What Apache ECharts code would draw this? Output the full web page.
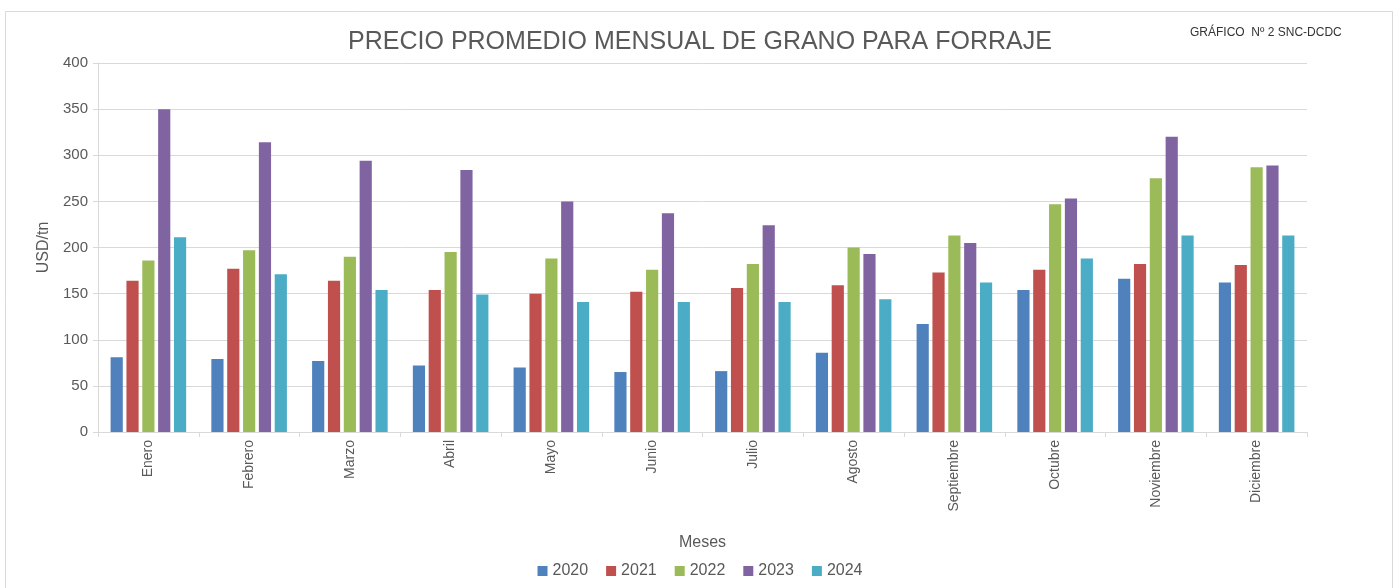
<!DOCTYPE html>
<html>
<head>
<meta charset="utf-8">
<script src="https://cdn.jsdelivr.net/npm/echarts@6/dist/echarts.min.js"></script>
<style>
    html, body { margin: 0; padding: 0; background: #fff; }
    #chart { width: 1400px; height: 588px; }
</style>
</head>
<body>
<div id="chart"></div>
<script>
// meses y series (USD/tn)
var months = ["Enero", "Febrero", "Marzo", "Abril", "Mayo", "Junio", "Julio", "Agosto", "Septiembre", "Octubre", "Noviembre", "Diciembre"];
var years = ["2020", "2021", "2022", "2023", "2024"];
var colors = ["#4f81bd", "#c0504d", "#9bbb59", "#8064a2", "#4bacc6"];

var data2020 = [81, 79, 77, 72, 70, 65, 66, 86, 117, 154, 166, 162];
var data2021 = [164, 177, 164, 154, 150, 152, 156, 159, 173, 176, 182, 181];
var data2022 = [186, 197, 190, 195, 188, 176, 182, 200, 213, 247, 275, 287];
var data2023 = [350, 314, 294, 284, 250, 237, 224, 193, 205, 253, 320, 289];
var data2024 = [211, 171, 154, 149, 141, 141, 141, 144, 162, 188, 213, 213];
var allData = [data2020, data2021, data2022, data2023, data2024];

var textColor = "#595959";

var chart = echarts.init(document.getElementById("chart"));

var series = years.map(function (y, i) {
    return {
        name: y,
        type: "bar",
        data: allData[i],
        itemStyle: { color: colors[i] },
        barGap: "30%",
        barCategoryGap: "25%"
    };
});

chart.setOption({
    animation: false,
    textStyle: { fontFamily: "Liberation Sans, Arial, sans-serif" },
    graphic: [
        {
            type: "rect",
            shape: { x: 5.5, y: 11.5, width: 1387, height: 600 },
            style: { fill: "none", stroke: "#d9d9d9", lineWidth: 1 },
            silent: true
        },
        {
            type: "text",
            left: 1190,
            top: 27,
            style: {
                text: "GRÁFICO  Nº 2 SNC-DCDC",
                fill: "#333",
                font: "12px Liberation Sans, Arial, sans-serif"
            }
        }
    ],
    title: {
        text: "PRECIO PROMEDIO MENSUAL DE GRANO PARA FORRAJE",
        left: "center",
        top: 25,
        textStyle: {
            color: textColor,
            fontSize: 25,
            fontWeight: "normal",
            fontFamily: "Liberation Sans, Arial, sans-serif"
        }
    },
    legend: {
        data: years,
        bottom: 4,
        left: "center",
        icon: "rect",
        itemWidth: 10,
        itemHeight: 10,
        itemGap: 18,
        textStyle: { color: textColor, fontSize: 16 }
    },
    grid: {
        left: 98,
        right: 93,
        top: 63,
        bottom: 156
    },
    xAxis: {
        type: "category",
        data: months,
        name: "Meses",
        nameLocation: "middle",
        nameGap: 103,
        nameTextStyle: { color: textColor, fontSize: 16 },
        axisLine: { lineStyle: { color: "#d9d9d9" } },
        axisTick: { show: true, length: 5, lineStyle: { color: "#d9d9d9" } },
        axisLabel: {
            rotate: 90,
            color: textColor,
            fontSize: 14,
            margin: 8
        }
    },
    yAxis: {
        type: "value",
        min: 0,
        max: 400,
        interval: 50,
        name: "USD/tn",
        nameLocation: "middle",
        nameGap: 46,
        nameTextStyle: { color: textColor, fontSize: 16 },
        axisLine: { show: true, lineStyle: { color: "#d9d9d9" } },
        axisTick: { show: true, length: 5, lineStyle: { color: "#d9d9d9" } },
        axisLabel: { color: textColor, fontSize: 15, margin: 10 },
        splitLine: { lineStyle: { color: "#d9d9d9" } }
    },
    series: series
});
</script>
</body>
</html>
